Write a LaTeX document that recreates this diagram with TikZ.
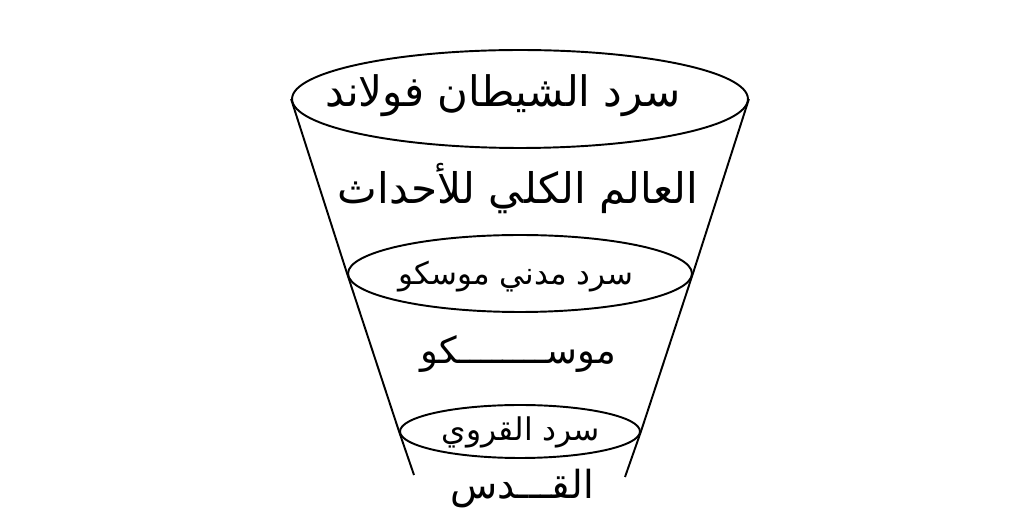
\documentclass[tikz,border=0pt]{standalone}
\usepackage{fontspec}
\usetikzlibrary{shapes.geometric}
\newfontfamily\arabicfont[Script=Arabic]{DejaVu Sans}
\TeXXeTstate=1
\begin{document}
\begin{tikzpicture}[x=0.02cm,y=-0.02cm]
\tikzset{
  ring/.style={draw, ellipse, line width=1.1pt, inner sep=0pt},
  wall/.style={line width=1.1pt},
  lbl/.style={inner sep=0pt, font=\arabicfont}
}
\useasboundingbox (0,0) rectangle (1009,523);
\node[ring, minimum width=9.12cm, minimum height=1.96cm] (top) at (520,99) {};
\node[ring, minimum width=6.88cm, minimum height=1.54cm] (mid) at (520,273.5) {};
\node[ring, minimum width=4.8cm, minimum height=1.06cm] (bot) at (520,431.5) {};
\coordinate (lend) at (414,475);
\coordinate (rend) at (625,477);
\draw[wall] (top.west) -- (mid.west) -- (bot.west) -- (lend);
\draw[wall] (top.east) -- (mid.east) -- (bot.east) -- (rend);
\node[lbl, font=\arabicfont\fontsize{23.9}{28}\selectfont] (t1) at (503,96) {\beginR سرد الشيطان فولاند\endR};
\node[lbl, font=\arabicfont\fontsize{24}{28}\selectfont] (t2) at (518,189) {\beginR العالم الكلي للأحداث\endR};
\node[lbl, font=\arabicfont\fontsize{17.6}{21}\selectfont] (t3) at (516,277) {\beginR سرد مدني موسكو\endR};
\node[lbl, font=\arabicfont\fontsize{21}{25}\selectfont] (t4) at (518,354) {\beginR موســــــــكو\endR};
\node[lbl, font=\arabicfont\fontsize{17.8}{21}\selectfont] (t5) at (521,432) {\beginR سرد القروي\endR};
\node[lbl, font=\arabicfont\fontsize{22}{26}\selectfont] (t6) at (522,489) {\beginR القـــدس\endR};
\end{tikzpicture}
\end{document}
